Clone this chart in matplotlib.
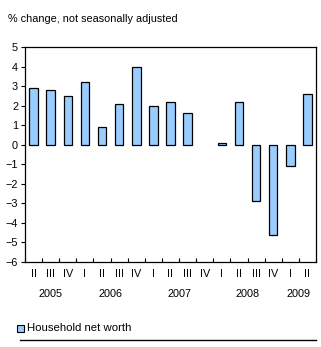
import matplotlib
matplotlib.use("Agg")
from matplotlib import pyplot as plt
from matplotlib.patches import Rectangle
from matplotlib.lines import Line2D

plt.rcParams['font.family'] = ['Liberation Sans', 'DejaVu Sans']

# quarters from 2005 Q2 to 2009 Q2
quarters = ['II', 'III', 'IV', 'I', 'II', 'III', 'IV', 'I', 'II', 'III', 'IV',
            'I', 'II', 'III', 'IV', 'I', 'II']
net_worth = [2.9, 2.8, 2.5, 3.2, 0.9, 2.1, 4.0, 2.0, 2.2, 1.6, 0.0,
             0.1, 2.2, -2.9, -4.6, -1.1, 2.6]
years = ['2005', '2006', '2007', '2008', '2009']
year_pos = [1, 4.5, 8.5, 12.5, 15.5]

fig = plt.figure(figsize=(3.21, 3.47), dpi=100)
ax = fig.add_axes([25 / 321, 1 - 262 / 347, 291 / 321, 215 / 347])

x = list(range(len(net_worth)))
edges = ['black' if v != 0 else 'none' for v in net_worth]
ax.bar(x, net_worth, width=0.5, color='#99CCFF', edgecolor=edges, linewidth=0.9, zorder=3)

ax.set_xlim(-0.5, len(net_worth) - 0.5)
ax.set_ylim(-6, 5)
ax.set_yticks(range(-6, 6))
ax.tick_params(axis='y', length=3, width=0.8, labelsize=7.8, direction='out', pad=2)

# category ticks between bars, pointing inwards
ax.set_xticks([i - 0.5 for i in range(len(net_worth) + 1)])
ax.set_xticklabels([])
ax.tick_params(axis='x', length=3, width=0.8, direction='in')
for i, q in enumerate(quarters):
    ax.text(i, -0.055, q, transform=ax.get_xaxis_transform(), ha='center', va='center',
            fontsize=7.8)
for yr, p in zip(years, year_pos):
    ax.text(p, -0.15, yr, transform=ax.get_xaxis_transform(), ha='center', va='center',
            fontsize=7.8)

for s in ax.spines.values():
    s.set_linewidth(0.9)

fig.text(8 / 321, 1 - 19 / 347, '% change, not seasonally adjusted', fontsize=7.8, va='center')

# legend
fig.patches.append(Rectangle((17 / 321, 1 - 332 / 347), 7 / 321, 7 / 347, transform=fig.transFigure,
                             facecolor='#99CCFF', edgecolor='black', linewidth=0.8))
fig.text(27 / 321, 1 - 328 / 347, 'Household net worth', fontsize=8.2, va='center')
fig.lines.append(Line2D([20 / 321, 316 / 321], [1 - 340 / 347, 1 - 340 / 347],
                        transform=fig.transFigure, color='black', linewidth=1.0))

fig.savefig('out.png', dpi=100)
